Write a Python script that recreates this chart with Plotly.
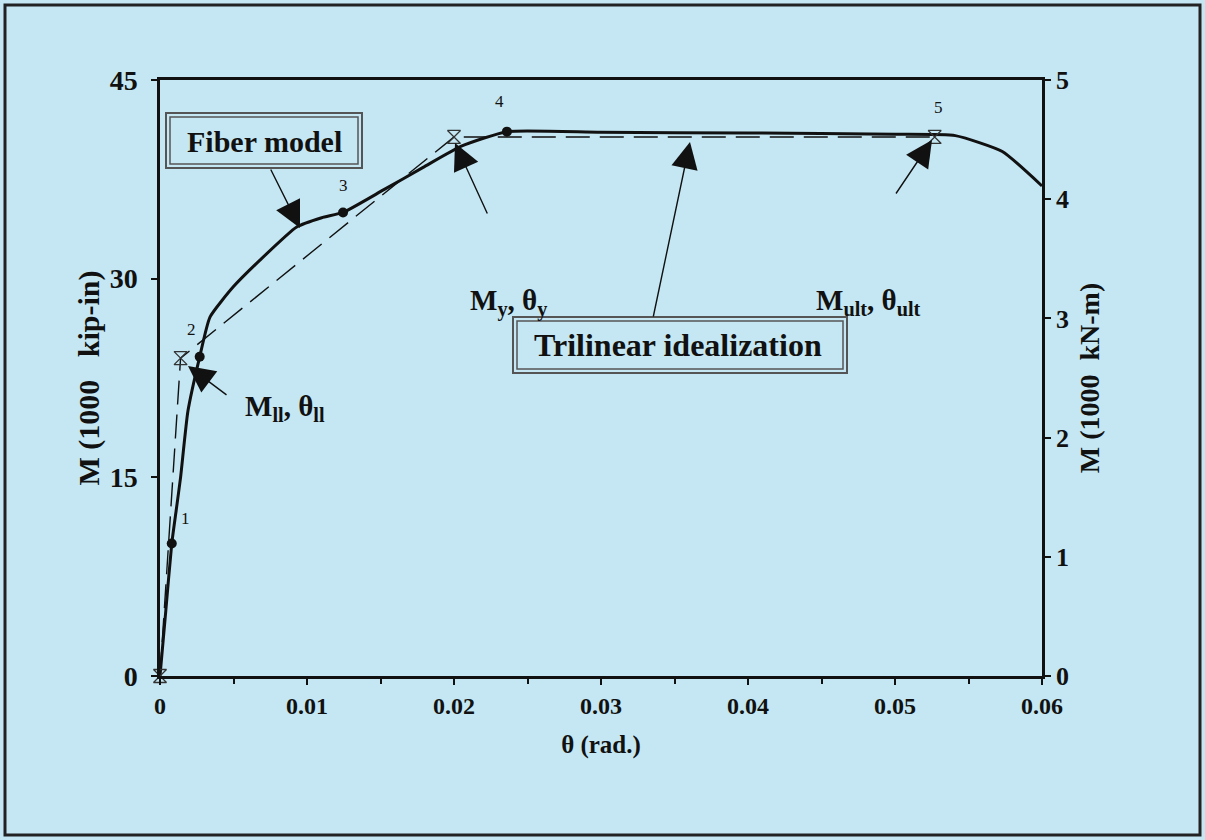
import plotly.graph_objects as go

# ---- data ----
theta_fiber = [0, 0.0004, 0.0008, 0.0011, 0.0014, 0.0019, 0.0027, 0.0034, 0.0050, 0.0068,
               0.0093, 0.0110, 0.01245, 0.0152, 0.0179, 0.0205, 0.0236, 0.0300, 0.0400, 0.0500,
               0.0541, 0.0573, 0.0600]
M_fiber = [0, 5.0, 10.0, 12.5, 15.0, 20.0, 24.1, 27.1, 29.4, 31.4,
           33.9, 34.6, 35.0, 36.7, 38.4, 40.0, 41.1, 41.05, 41.0, 40.9,
           40.8, 39.6, 37.0]

pt_labels = ["1", "2", "3", "4"]
pt_theta = [0.0008, 0.0027, 0.01245, 0.0236]
pt_M = [10.0, 24.1, 35.0, 41.1]

tri_labels = ["", "", "", "5"]
tri_theta = [0, 0.0014, 0.0200, 0.0527]
tri_M = [0, 24.0, 40.7, 40.7]

x_ticks = [0, 0.01, 0.02, 0.03, 0.04, 0.05, 0.06]
x_ticktext = ["0", "0.01", "0.02", "0.03", "0.04", "0.05", "0.06"]
y_ticks = [0, 15, 30, 45]
y2_ticks = [0, 1, 2, 3, 4, 5]

# ---- layout helpers (pixel -> data for annotations) ----
L, R, T, B = 160, 1042, 80, 676
def X(px):
    return (px - L) / (R - L) * 0.06
def Y(py):
    return (B - py) / (B - T) * 45

BG = "#c4e7f3"
INK = "#111111"
SERIF = "Liberation Serif"

fig = go.Figure()
fig.add_trace(go.Scatter(x=tri_theta, y=tri_M, mode="lines",
                         line=dict(color=INK, width=1.4, dash="24px,10px"),
                         hoverinfo="skip", showlegend=False))
fig.add_trace(go.Scatter(x=theta_fiber, y=M_fiber, mode="lines",
                         line=dict(color=INK, width=3, shape="spline", smoothing=0.5),
                         showlegend=False))
fig.add_trace(go.Scatter(x=tri_theta, y=tri_M, mode="markers",
                         marker=dict(symbol="hourglass-open", size=13,
                                     color="#333", line=dict(width=1.3, color="#333")),
                         cliponaxis=False, showlegend=False))
fig.add_trace(go.Scatter(x=pt_theta, y=pt_M, mode="markers",
                         marker=dict(symbol="circle", size=10, color=INK),
                         cliponaxis=False, showlegend=False))
# dummy trace for right axis
fig.add_trace(go.Scatter(x=[0], y=[0], yaxis="y2", mode="markers",
                         marker=dict(opacity=0), hoverinfo="skip", showlegend=False))

ann = []
offs = [(14, 25), (-8, 27), (0, 27), (-7, 30)]
for lab, tx, my, (dx, dy) in zip(pt_labels, pt_theta, pt_M, offs):
    ann.append(dict(x=tx, y=my, text=lab, showarrow=False, xshift=dx, yshift=dy,
                    font=dict(family=SERIF, size=17, color=INK)))
for lab, tx, my in zip(tri_labels, tri_theta, tri_M):
    if lab:
        ann.append(dict(x=tx, y=my, text=lab, showarrow=False, xshift=4, yshift=29,
                        font=dict(family=SERIF, size=17, color=INK)))

# arrows (tip, tail) in pixel coords
arrows = [((300, 228), (270, 168)),
          ((188, 366), (228, 396)),
          ((455, 143), (488, 215)),
          ((690, 142), (653, 318)),
          ((932, 140), (895, 195))]
for (tx, ty), (sx, sy) in arrows:
    ann.append(dict(x=X(tx), y=Y(ty), ax=X(sx), ay=Y(sy), axref="x", ayref="y",
                    xref="x", yref="y", text="", showarrow=True, arrowhead=2,
                    arrowsize=3.8, arrowwidth=1.4, arrowcolor=INK, standoff=0))

txt_font = dict(family=SERIF, size=29, color=INK)
ann.append(dict(x=X(285), y=Y(408), text="<b>M<sub>ll</sub>, θ<sub>ll</sub></b>",
                showarrow=False, font=txt_font))
ann.append(dict(x=X(508), y=Y(302), text="<b>M<sub>y</sub>, θ<sub>y</sub></b>",
                showarrow=False, font=txt_font))
ann.append(dict(x=X(868), y=Y(302), text="<b>M<sub>ult</sub>, θ<sub>ult</sub></b>",
                showarrow=False, font=txt_font))
ann.append(dict(x=X(264), y=Y(141), text="<b>Fiber model</b>", showarrow=False,
                font=dict(family=SERIF, size=30, color=INK)))
ann.append(dict(x=X(678), y=Y(345), text="<b>Trilinear idealization</b>", showarrow=False,
                font=dict(family=SERIF, size=32, color=INK)))

shapes = []
def dbox(x0, y0, x1, y1):
    shapes.append(dict(type="rect", xref="x", yref="y", x0=X(x0), x1=X(x1), y0=Y(y0), y1=Y(y1),
                       line=dict(color="#555", width=2), fillcolor=BG, layer="below"))
    shapes.append(dict(type="rect", xref="x", yref="y", x0=X(x0 + 4), x1=X(x1 - 4),
                       y0=Y(y0 + 4), y1=Y(y1 - 4), line=dict(color="#555", width=1.5)))
dbox(166, 113, 362, 168)
dbox(513, 317, 847, 373)
# outer frame
shapes.append(dict(type="rect", xref="paper", yref="paper",
                   x0=-155 / 882, x1=1 + 158 / 882, y0=-159 / 596, y1=1 + 75 / 596,
                   line=dict(color="#222", width=3)))

xtickfont = dict(family=SERIF, size=24, color=INK)
ytickfont = dict(family=SERIF, size=28, color=INK)
y2tickfont = dict(family=SERIF, size=26, color=INK)
titlefont = dict(family=SERIF, size=25, color=INK)
fig.update_layout(
    width=1205, height=840,
    margin=dict(l=160, r=163, t=80, b=164),
    paper_bgcolor=BG, plot_bgcolor=BG,
    showlegend=False,
    annotations=ann, shapes=shapes,
    xaxis=dict(range=[0, 0.06], tickvals=x_ticks, ticktext=["<b>%s</b>" % t for t in x_ticktext],
               tickfont=xtickfont, ticks="outside", ticklen=6, tickwidth=1.5, tickcolor=INK,
               minor=dict(dtick=0.005, ticks="outside", ticklen=5, tickcolor=INK),
               showline=True, linecolor=INK, linewidth=2.5, mirror=True,
               showgrid=False, zeroline=False,
               title=dict(text="<b>θ (rad.)</b>", font=titlefont, standoff=18)),
    yaxis=dict(range=[0, 45], tickvals=y_ticks, ticktext=["<b>%d</b>" % v for v in y_ticks],
               tickfont=ytickfont, ticks="outside", ticklen=6, tickwidth=1.5, tickcolor=INK,
               ticklabelstandoff=8,
               showline=True, linecolor=INK, linewidth=2.5,
               showgrid=False, zeroline=False,
               title=dict(text="<b>M (1000   kip-in)</b>",
                          font=dict(family=SERIF, size=30, color=INK), standoff=2)),
    yaxis2=dict(range=[0, 5], overlaying="y", side="right", tickvals=y2_ticks,
                ticktext=["<b>%d</b>" % v for v in y2_ticks],
                tickfont=y2tickfont, ticks="outside", ticklen=6, tickwidth=1.5, tickcolor=INK,
                showline=True, linecolor=INK, linewidth=2.5,
                showgrid=False, zeroline=False,
                title=dict(text="<b>M (1000  kN-m)</b>",
                           font=dict(family=SERIF, size=28, color=INK), standoff=12)),
)
fig.write_html("out.html")
